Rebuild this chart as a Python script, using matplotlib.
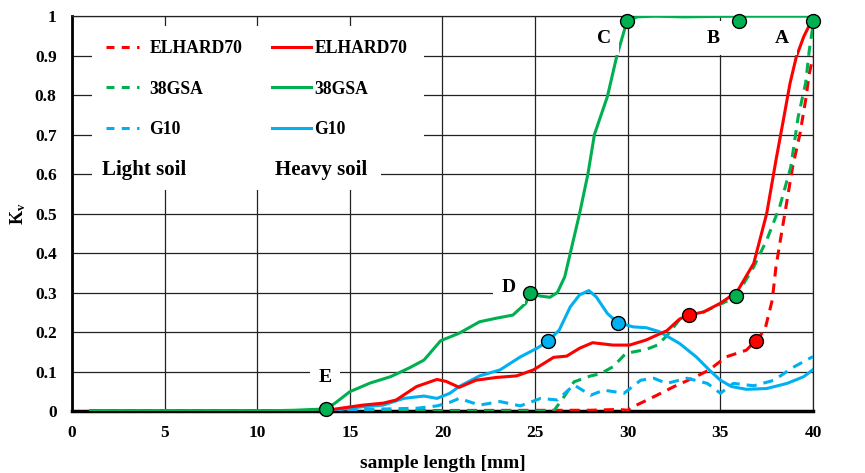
import matplotlib
matplotlib.use("Agg")
import matplotlib.pyplot as plt
from matplotlib.patches import Rectangle
from matplotlib.lines import Line2D

plt.rcParams['font.family'] = ['Liberation Serif', 'DejaVu Serif']
plt.rcParams['font.weight'] = 'bold'
plt.rcParams['mathtext.fontset'] = 'custom'
plt.rcParams['mathtext.rm'] = 'Liberation Serif:bold'
plt.rcParams['mathtext.it'] = 'Liberation Serif:bold'
plt.rcParams['mathtext.bf'] = 'Liberation Serif:bold'

RED = '#ff0000'
GREEN = '#00b050'
BLUE = '#00b0f0'

# --- data ---
x_ticks = [0, 5, 10, 15, 20, 25, 30, 35, 40]
y_ticks = [0, 0.1, 0.2, 0.3, 0.4, 0.5, 0.6, 0.7, 0.8, 0.9, 1.0]
y_tick_labels = ['0', '0.1', '0.2', '0.3', '0.4', '0.5', '0.6', '0.7', '0.8', '0.9', '1']

gsa_heavy_x = [1, 10, 12, 13.0, 13.7, 14.2, 15.0, 16.1, 17.2, 18.2, 19.0, 19.9, 20.9, 22.0, 22.9, 23.8,
               24.5, 24.7, 25.3, 25.8, 26.2, 26.6, 26.9, 27.4, 27.85, 28.2, 28.9, 29.4, 29.95, 30.5, 31.5,
               33, 36, 40]
gsa_heavy_y = [0, 0, 0.002, 0.004, 0.005, 0.02, 0.049, 0.071, 0.087, 0.109, 0.129, 0.178, 0.197, 0.226,
               0.235, 0.243, 0.273, 0.298, 0.291, 0.288, 0.300, 0.34, 0.40, 0.50, 0.60, 0.70, 0.796, 0.897,
               0.986, 0.998, 1.0, 0.998, 1.0, 1.0]

elh_heavy_x = [1, 13.5, 14.5, 15.7, 16.8, 17.5, 18.6, 19.7, 20.2, 20.9, 21.8, 22.9, 24.0, 24.9, 26.0,
               26.7, 27.4, 28.1, 29.2, 30.1, 31.0, 31.7, 32.1, 32.8, 33.3, 34.1, 35.0, 35.9, 36.8, 37.5,
               38.0, 38.4, 38.76, 39.1, 39.5, 39.9, 40]
elh_heavy_y = [0, 0, 0.007, 0.015, 0.02, 0.028, 0.062, 0.08, 0.075, 0.06, 0.078, 0.085, 0.089, 0.104,
               0.136, 0.139, 0.159, 0.173, 0.167, 0.167, 0.18, 0.195, 0.203, 0.233, 0.243, 0.251, 0.273,
               0.302, 0.374, 0.50, 0.635, 0.737, 0.83, 0.897, 0.948, 0.986, 0.995]

g10_heavy_x = [1, 13.5, 14.5, 15.7, 16.8, 17.9, 19.0, 19.7, 20.4, 20.9, 22.0, 23.1, 24.2, 25.1, 25.7,
               26.3, 26.9, 27.4, 27.9, 28.3, 28.9, 29.45, 30.3, 31.0, 31.7, 32.8, 33.7, 34.4, 35.0, 35.6,
               36.4, 37.5, 38.6, 39.5, 40]
g10_heavy_y = [0, 0, 0.004, 0.011, 0.015, 0.032, 0.038, 0.032, 0.045, 0.062, 0.089, 0.104, 0.137, 0.159,
               0.177, 0.205, 0.264, 0.294, 0.305, 0.289, 0.247, 0.224, 0.213, 0.211, 0.201, 0.171, 0.137,
               0.104, 0.078, 0.062, 0.055, 0.057, 0.07, 0.087, 0.105]

gsa_light_x = [1, 26.0, 26.5, 27.1, 28.0, 28.5, 29.2, 29.9, 31.0, 31.6, 32.1, 32.8, 34.1, 35.3, 35.85,
               36.8, 37.5, 38.2, 38.8, 39.2, 39.6, 39.8, 40]
gsa_light_y = [0, 0, 0.032, 0.074, 0.089, 0.094, 0.112, 0.146, 0.156, 0.167, 0.19, 0.232, 0.251, 0.277,
               0.291, 0.365, 0.433, 0.517, 0.618, 0.745, 0.83, 0.914, 0.977]

elh_light_x = [1, 28.0, 29.5, 30.0, 30.3, 31.4, 32.5, 33.5, 34.4, 35.3, 36.4, 36.9, 37.4, 37.8, 38.0,
               38.3, 38.6, 38.9, 39.3, 39.6, 39.8, 40]
elh_light_y = [0, 0.002, 0.004, 0.002, 0.011, 0.036, 0.062, 0.083, 0.104, 0.137, 0.154, 0.178, 0.205,
               0.281, 0.365, 0.45, 0.534, 0.618, 0.703, 0.787, 0.855, 0.897]

g10_light_x = [1, 14.5, 15.7, 18.6, 19.7, 20.4, 20.9, 22.0, 23.1, 24.2, 25.3, 26.2, 27.1, 28.0, 28.7,
               29.8, 30.7, 31.4, 32.1, 33.2, 34.3, 35.0, 35.7, 36.8, 37.9, 38.9, 40]
g10_light_y = [0, 0.001, 0.004, 0.007, 0.013, 0.022, 0.032, 0.015, 0.024, 0.013, 0.032, 0.028, 0.066,
               0.04, 0.053, 0.045, 0.078, 0.083, 0.07, 0.083, 0.07, 0.045, 0.07, 0.064, 0.078, 0.11, 0.138]

green_pts_x = [13.7, 24.7, 29.95, 36.0, 40.0, 35.85]
green_pts_y = [0.005, 0.298, 0.988, 0.988, 0.988, 0.291]
red_pts_x = [33.3, 36.9]
red_pts_y = [0.243, 0.178]
blue_pts_x = [25.7, 29.45]
blue_pts_y = [0.177, 0.224]

point_labels = ['A', 'B', 'C', 'D', 'E']
point_label_x = [38.3, 34.6, 28.7, 23.6, 13.66]
point_label_y = [0.944, 0.944, 0.944, 0.314, 0.084]

# --- figure ---
fig = plt.figure(figsize=(8.65, 4.73), dpi=100)
ax = fig.add_axes([0.0832, 0.131, 0.8567, 0.835])
ax.set_xlim(0, 40)
ax.set_ylim(0, 1)
ax.set_axisbelow(True)
ax.grid(True, color='#222222', linewidth=0.9)
ax.set_xticks(x_ticks)
ax.set_yticks(y_ticks)
ax.set_yticklabels(y_tick_labels)
ax.tick_params(length=0, labelsize=12.5, pad=10)
ax.tick_params(axis='y', pad=11)
for lab in ax.get_xticklabels() + ax.get_yticklabels():
    lab.set_fontweight('bold')
ax.spines['left'].set_linewidth(2.0)
ax.spines['bottom'].set_linewidth(2.5)
ax.spines['top'].set_linewidth(0.9)
ax.spines['right'].set_linewidth(0.9)
ax.spines['top'].set_color('#222222')
ax.spines['right'].set_color('#222222')

ax.set_xlabel('sample length [mm]', fontsize=14, fontweight='bold')
ax.xaxis.set_label_coords(0.5, -0.112)
ax.set_ylabel(r'$\mathrm{K_v}$', fontsize=13, rotation=90)
ax.yaxis.set_label_coords(-0.06, 0.5)

# white background behind the legend block
ax.add_patch(Rectangle((0.0268, 0.64), 0.448, 0.335, transform=ax.transAxes,
                       facecolor='white', edgecolor='none', zorder=1))
ax.add_patch(Rectangle((0.0268, 0.56), 0.39, 0.09, transform=ax.transAxes,
                       facecolor='white', edgecolor='none', zorder=1))

lw = 2.2
dash = (3.3, 2.3)
ax.plot(elh_light_x, elh_light_y, color=RED, lw=lw, dashes=dash, zorder=3)
ax.plot(gsa_light_x, gsa_light_y, color=GREEN, lw=lw, dashes=dash, zorder=3)
ax.plot(g10_light_x, g10_light_y, color=BLUE, lw=lw, dashes=dash, zorder=3)
ax.plot(g10_heavy_x, g10_heavy_y, color=BLUE, lw=lw, zorder=4)
ax.plot(elh_heavy_x, elh_heavy_y, color=RED, lw=lw, zorder=4)
ax.plot(gsa_heavy_x, gsa_heavy_y, color=GREEN, lw=lw, zorder=4)

ms = 10
ax.plot(green_pts_x, green_pts_y, 'o', color=GREEN, mec='black', mew=1.0, ms=ms, zorder=6, clip_on=False)
ax.plot(red_pts_x, red_pts_y, 'o', color=RED, mec='black', mew=1.0, ms=ms, zorder=6, clip_on=False)
ax.plot(blue_pts_x, blue_pts_y, 'o', color=BLUE, mec='black', mew=1.0, ms=ms, zorder=6, clip_on=False)

for t, px, py in zip(point_labels, point_label_x, point_label_y):
    ax.text(px, py, t, fontsize=14, fontweight='bold', ha='center', va='center', zorder=5,
            bbox=dict(facecolor='white', edgecolor='none', boxstyle='square,pad=0.45'))

# legends
names = ['ELHARD70', '38GSA', 'G10']
cols = [RED, GREEN, BLUE]
light_h = [Line2D([], [], color=c, lw=lw, dashes=(2.6, 2.4)) for c in cols]
heavy_h = [Line2D([], [], color=c, lw=lw) for c in cols]
leg1 = ax.legend(light_h, names, loc='center left', bbox_to_anchor=(0.046, 0.815), frameon=False,
                 handlelength=1.85, handletextpad=0.6, labelspacing=1.32,
                 borderpad=0, borderaxespad=0, prop={'weight': 'bold', 'size': 12.7})
leg1.set_zorder(7)
ax.add_artist(leg1)
leg2 = ax.legend(heavy_h, names, loc='center left', bbox_to_anchor=(0.27, 0.815), frameon=False,
                 handlelength=2.2, handletextpad=0.2, labelspacing=1.32,
                 borderpad=0, borderaxespad=0, prop={'weight': 'bold', 'size': 12.7})
leg2.set_zorder(7)

ax.text(1.62, 0.61, 'Light soil', fontsize=15, fontweight='bold', ha='left', va='center', zorder=5)
ax.text(10.96, 0.61, 'Heavy soil', fontsize=15, fontweight='bold', ha='left', va='center', zorder=5)

fig.savefig('out.png', dpi=100)
